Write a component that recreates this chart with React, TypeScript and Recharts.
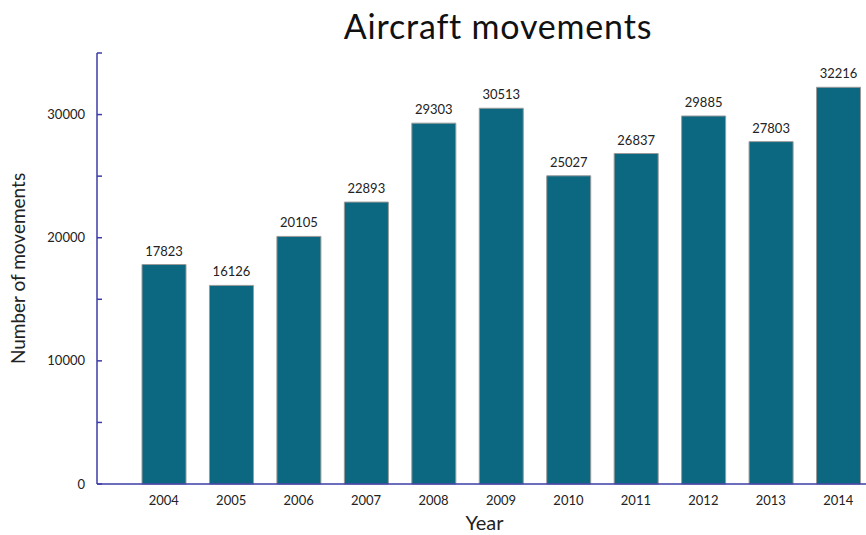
import React from 'react';
import { ComposedChart, Bar, XAxis, YAxis, LabelList, Label } from 'recharts';

const years = ['2004', '2005', '2006', '2007', '2008', '2009', '2010', '2011', '2012', '2013', '2014'];
const movements = [17823, 16126, 20105, 22893, 29303, 30513, 25027, 26837, 29885, 27803, 32216];
const yTicks = [0, 5000, 10000, 15000, 20000, 25000, 30000, 35000];

const data = years.map((y, i) => ({ year: y, value: movements[i] }));

const FONT = 'Lato, "Open Sans", sans-serif';
const AXIS = '#3c3ca8';

export default function App() {
  return (
    <div style={{ position: 'absolute', left: 0, top: 0, width: 866, height: 535, overflow: 'hidden', background: '#fff' }}>
      <div style={{ position: 'absolute', left: 0, top: 6, width: 866, textAlign: 'center', paddingLeft: 130, boxSizing: 'border-box', fontFamily: FONT, fontSize: 34, letterSpacing: 0.8, color: '#111', lineHeight: '40px' }}>
        Aircraft movements
      </div>
      <ComposedChart
        width={880}
        height={535}
        data={data}
        margin={{ top: 53, right: 8, bottom: 0, left: 0 }}
        barSize={44}
      >
        <XAxis
          dataKey="year"
          height={51}
          axisLine={{ stroke: AXIS, strokeWidth: 1.5 }}
          tickLine={false}
          tickMargin={6}
          padding={{ left: 33, right: 0 }}
          tick={{ fill: '#222', fontSize: 13, fontFamily: FONT }}
        >
          <Label value="Year" position="insideBottom" offset={5} style={{ fill: '#222', fontSize: 20, fontFamily: FONT }} />
        </XAxis>
        <YAxis
          width={97}
          domain={[0, 35000]}
          ticks={yTicks}
          interval={0}
          axisLine={{ stroke: AXIS, strokeWidth: 1.5 }}
          tickLine={{ stroke: AXIS, strokeWidth: 1.5 }}
          tickSize={-5}
          tickMargin={17}
          tickFormatter={(v: number) => (v % 10000 === 0 && v < 35000 ? String(v) : '')}
          tick={{ fill: '#222', fontSize: 13, fontFamily: FONT }}
        >
          <Label value="Number of movements" angle={-90} position="insideLeft" offset={18} style={{ fill: '#222', fontSize: 19, fontFamily: FONT, textAnchor: 'middle' }} />
        </YAxis>
        <Bar dataKey="value" fill="#0b6880" stroke="#9a9a9a" strokeWidth={1} isAnimationActive={false}>
          <LabelList dataKey="value" position="top" offset={9} style={{ fill: '#222', fontSize: 13, fontFamily: FONT }} />
        </Bar>
      </ComposedChart>
    </div>
  );
}
